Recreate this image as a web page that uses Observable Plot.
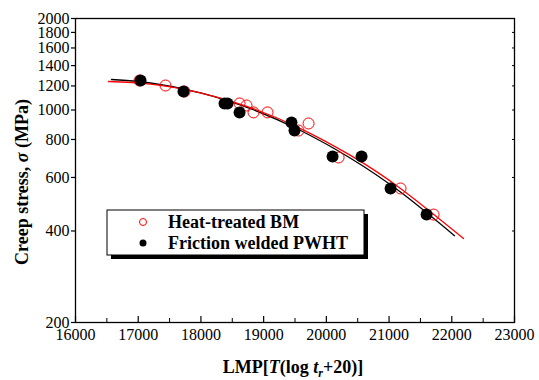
<!DOCTYPE html>
<html><head><meta charset="utf-8">
<script src="https://cdn.jsdelivr.net/npm/d3@7"></script>
<script src="https://cdn.jsdelivr.net/npm/@observablehq/plot@0.6"></script>
<style>
body{margin:0;background:#fff}
#chart svg, #chart svg text, #chart svg tspan { font-family: "Liberation Serif", "DejaVu Serif", serif !important; }
</style>
</head><body><div id="chart"></div>
<script>
// Heat-treated BM (open red circles)
const heatLMP = [17021, 17435, 17738, 18616, 18727, 18839, 19062, 19556, 19716, 20195, 21183, 21710];
const heatStress = [1250, 1204, 1150, 1051, 1035, 982, 982, 856, 903, 698, 552, 453];
// Friction welded PWHT (filled black circles)
const pwhtLMP = [17037, 17722, 18376, 18424, 18616, 19444, 19492, 20099, 20561, 21024, 21598];
const pwhtStress = [1250, 1150, 1051, 1051, 982, 910, 856, 703, 703, 552, 453];
// Fitted curves
const heatFitLMP = [16526, 17196, 17993, 18790, 19588, 20385, 21182, 22187];
const heatFitStress = [1241, 1217, 1138, 1018, 869, 709, 552, 378];
const pwhtFitLMP = [16574, 17196, 17993, 18790, 19588, 20385, 21182, 22043];
const pwhtFitStress = [1260, 1227, 1139, 1010, 856, 694, 537, 386];
// Ticks
const xTicks = [16000, 17000, 18000, 19000, 20000, 21000, 22000, 23000];
const xMinor = [16500, 17500, 18500, 19500, 20500, 21500, 22500];
const yTicks = [200, 400, 600, 800, 1000, 1200, 1400, 1600, 1800, 2000];
const legendLabels = ["Heat-treated BM", "Friction welded PWHT"];

const heat = heatLMP.map((x, i) => ({x, y: heatStress[i]}));
const pwht = pwhtLMP.map((x, i) => ({x, y: pwhtStress[i]}));
const heatFit = heatFitLMP.map((x, i) => ({x, y: heatFitStress[i]}));
const pwhtFit = pwhtFitLMP.map((x, i) => ({x, y: pwhtFitStress[i]}));

const serif = "Liberation Serif, DejaVu Serif, serif";

const plot = Plot.plot({
  width: 539, height: 380,
  marginLeft: 75, marginRight: 25, marginTop: 18, marginBottom: 58,
  style: {fontFamily: serif, fontSize: "16px", color: "black", background: "white"},
  x: {domain: [16000, 23000]},
  y: {type: "log", domain: [200, 2000]},
  marks: [
    Plot.axisY({ticks: yTicks, tickSize: 4, tickPadding: 2, tickFormat: d => String(d), label: null, fontSize: 16, strokeWidth: 1.2}),
    Plot.axisY({anchor: "right", ticks: yTicks, tickSize: 3, dx: -3, tickFormat: () => "", label: null}),
    Plot.axisX({ticks: xTicks, tickSize: 6, dy: -6, tickFormat: () => "", label: null, strokeWidth: 1.2}),
    Plot.axisX({ticks: xMinor, tickSize: 4, dy: -4, tickFormat: () => "", label: null}),
    Plot.axisX({ticks: xTicks, tickSize: 0, tickPadding: 6, tickFormat: d => String(d), label: null, fontSize: 16}),
    Plot.line(pwhtFit, {x: "x", y: "y", stroke: "black", strokeWidth: 1.3, curve: "natural"}),
    Plot.line(heatFit, {x: "x", y: "y", stroke: "#ff0000", strokeWidth: 1.3, curve: "natural"}),
    Plot.dot(heat, {x: "x", y: "y", r: 5.5, stroke: "#ff0000", strokeWidth: 1, fill: "none"}),
    Plot.dot(pwht, {x: "x", y: "y", r: 6, fill: "black", stroke: "none"}),
    Plot.frame({stroke: "black", strokeWidth: 1.3})
  ]
});
document.getElementById("chart").appendChild(plot);

const svg = d3.select(plot);

// Legend
const lg = svg.append("g").attr("text-anchor", "start");
lg.append("rect").attr("x", 111).attr("y", 214).attr("width", 257).attr("height", 45).attr("fill", "black");
lg.append("rect").attr("x", 107).attr("y", 210).attr("width", 257).attr("height", 45).attr("fill", "white").attr("stroke", "black").attr("stroke-width", 1);
lg.append("circle").attr("cx", 143).attr("cy", 222).attr("r", 3.5).attr("fill", "none").attr("stroke", "#ff0000").attr("stroke-width", 1);
lg.append("circle").attr("cx", 143).attr("cy", 243).attr("r", 3.5).attr("fill", "black");
legendLabels.forEach((t, i) => {
  lg.append("text").attr("x", 168).attr("y", 222 + i * 21).attr("dy", "0.35em").attr("text-anchor", "start")
    .attr("font-family", serif).attr("font-size", 18).attr("font-weight", "bold").attr("fill", "black").text(t);
});

// Y axis label
const yl = svg.append("text")
  .attr("transform", "translate(28,182) rotate(-90)")
  .attr("text-anchor", "middle")
  .attr("font-family", serif).attr("font-size", 18).attr("font-weight", "bold").attr("fill", "black");
yl.append("tspan").text("Creep stress, ");
yl.append("tspan").attr("font-style", "italic").text("σ");
yl.append("tspan").text(" (MPa)");

// X axis label
const xl = svg.append("text")
  .attr("x", 293).attr("y", 373)
  .attr("text-anchor", "middle")
  .attr("font-family", serif).attr("font-size", 18).attr("font-weight", "bold").attr("fill", "black");
xl.append("tspan").text("LMP[");
xl.append("tspan").attr("font-style", "italic").text("T");
xl.append("tspan").text("(log ");
xl.append("tspan").attr("font-style", "italic").text("t");
xl.append("tspan").attr("font-style", "italic").attr("font-size", 12).attr("dy", 4).text("r");
xl.append("tspan").attr("dy", -4).text("+20)]");
</script>
</body></html>
